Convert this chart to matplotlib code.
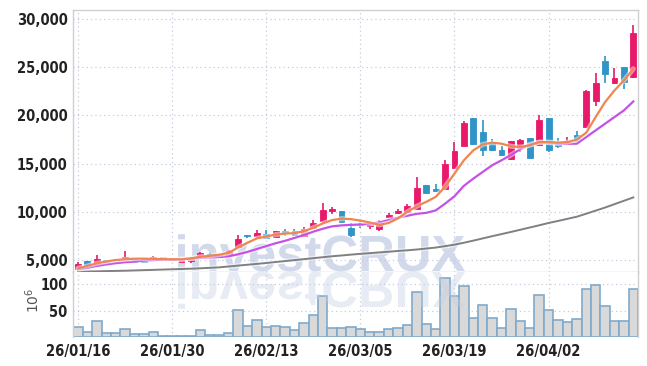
import numpy as np
import matplotlib
matplotlib.use('Agg')
import matplotlib.pyplot as plt
from matplotlib.textpath import TextPath
from matplotlib.patches import PathPatch
from matplotlib.font_manager import FontProperties
from matplotlib.transforms import Affine2D

# daily candles (trading days)
opens = [4100, 4900, 4550, 5000, 4980, 5110, 5220, 5180, 5010, 5300,
         5000, 4850, 4900, 5290, 5660, 5290, 5520, 6380, 7560, 7490,
         7700, 7390, 8010, 8010, 7520, 8350, 9070, 10110, 10070, 8350,
         8680, 8550, 8210, 9420, 9840, 10040, 10310, 12760, 12350, 12380,
         14550, 16870, 19760, 18240, 17000, 16450, 15450, 16620, 17620, 16970,
         19720, 17240, 17030, 17930, 18790, 21480, 25690, 23340, 25000, 23960]
highs = [4850, 4950, 5490, 5050, 5120, 5940, 5250, 5220, 5380, 5330,
         5100, 5020, 5200, 5800, 5700, 5600, 6000, 7600, 7650, 8110,
         8110, 8020, 8250, 8250, 8420, 9180, 10970, 10520, 10100, 8800,
         9110, 9000, 9200, 9900, 10300, 10800, 13600, 12800, 12900, 15420,
         17240, 19470, 19780, 19480, 17550, 16800, 17400, 17600, 17650, 20000,
         19750, 17650, 17750, 18400, 22600, 24400, 26130, 24960, 25050, 29410]
lows = [3950, 4450, 4500, 4750, 4950, 5080, 4800, 4800, 4980, 5120,
        4980, 4820, 4750, 5250, 5420, 5250, 5480, 6300, 7300, 7210,
        7250, 7350, 7500, 7500, 7480, 8300, 8800, 9830, 8950, 7380,
        8320, 8200, 8050, 9350, 9750, 10000, 10250, 11950, 12150, 12350,
        14500, 16800, 16950, 15800, 16300, 15800, 15400, 16200, 15550, 16900,
        16170, 16620, 17000, 17280, 18750, 20950, 23350, 23300, 22750, 23900]
closes = [4600, 4500, 5080, 4800, 5080, 5320, 4830, 4820, 5320, 5150,
          5060, 5000, 5180, 5760, 5450, 5560, 5970, 7210, 7480, 7830,
          7280, 7980, 7770, 7560, 8210, 8830, 10180, 10310, 8970, 7590,
          8600, 8900, 8860, 9630, 10110, 10590, 12450, 11970, 12170, 14930,
          16280, 19200, 17000, 16380, 16380, 15870, 17310, 17420, 15590, 19480,
          16410, 16830, 17380, 17310, 22560, 23380, 24270, 23830, 23440, 28550]
volume = [19.7, 8.9, 30, 7, 7, 16, 5, 5, 9, 1.3,
          2.5, 2.5, 2.5, 12.7, 3, 3, 7, 51, 20, 32,
          18.5, 20, 18.5, 14, 26, 41, 78, 16.5, 16.5, 18.5,
          14.6, 9.5, 9.5, 14.6, 16.5, 22, 85, 24, 14.6, 112,
          78, 97, 36, 61, 36, 16.5, 53, 30, 16.5, 80,
          51, 32, 28, 34, 91, 99, 59, 30, 30, 91]

# moving averages
ma_short = [4150, 4400, 4670, 4850, 5010, 5080, 5150, 5150, 5120, 5100,
            5080, 5080, 5180, 5350, 5450, 5560, 5750, 6300, 6800, 7250,
            7450, 7650, 7750, 7800, 8000, 8350, 8800, 9150, 9300, 9250,
            9100, 8900, 8650, 8850, 9330, 10000, 10590, 11040, 11550, 12600,
            13970, 15350, 16380, 17000, 17180, 17070, 16800, 16720, 16900, 17240,
            17240, 17180, 17240, 17490, 18210, 19830, 21380, 22590, 23620, 24830]
ma_mid = [4050, 4200, 4400, 4550, 4680, 4780, 4850, 4950, 5000, 5050,
          5080, 5100, 5150, 5230, 5290, 5320, 5400, 5600, 5850, 6150,
          6450, 6750, 7000, 7300, 7600, 7950, 8250, 8500, 8600, 8650,
          8700, 8750, 8900, 9150, 9400, 9600, 9800, 9900, 10150, 10850,
          11620, 12700, 13450, 14140, 14830, 15350, 15900, 16500, 17000, 17200,
          17180, 17070, 17070, 17070, 17760, 18450, 19140, 19830, 20520, 21450]
ma_long = [3800, 3820, 3840, 3860, 3880, 3900, 3930, 3960, 3990, 4020,
           4050, 4080, 4110, 4150, 4200, 4250, 4340, 4430, 4520, 4610,
           4700, 4800, 4900, 5000, 5100, 5200, 5300, 5400, 5480, 5570,
           5650, 5720, 5800, 5870, 5950, 6020, 6100, 6200, 6300, 6450,
           6600, 6800, 7020, 7250, 7480, 7700, 7920, 8150, 8380, 8610,
           8850, 9060, 9280, 9500, 9810, 10130, 10450, 10800, 11150, 11500]

date_pos = [0, 10, 20, 30, 40, 50]
date_labels = ['26/01/16', '26/01/30', '26/02/13', '26/03/05', '26/03/19', '26/04/02']
price_ticks = [5000, 10000, 15000, 20000, 25000, 30000]
vol_ticks = [50, 100]

UP = '#E8196B'
DOWN = '#2F94C8'
GRID = '#C3CCDD'
TICKFONT = FontProperties(family='DejaVu Sans', weight='bold', stretch='condensed', size=10.5)

W, H = 647, 366
fig = plt.figure(figsize=(W / 100, H / 100), dpi=100)
ax = fig.add_axes([73.3 / W, (H - 272) / H, (638 - 73.3) / W, 262 / H])
axv = fig.add_axes([73.3 / W, (H - 337) / H, (638 - 73.3) / W, 65 / H], sharex=ax)

x = np.arange(len(opens))
o = np.array(opens); c = np.array(closes)
up = c >= o
cols = np.where(up, UP, DOWN)

# candles
ax.vlines(x, lows, highs, colors=cols, linewidth=1.2, zorder=3)
ax.bar(x, np.abs(c - o), bottom=np.minimum(o, c), width=0.62, color=cols,
       edgecolor=cols, linewidth=0.6, zorder=3)

# moving averages
for vals, col, lw in [(ma_long, '#808080', 1.4), (ma_mid, '#C552E6', 1.6), (ma_short, '#EF8650', 1.6)]:
    ax.plot(x, vals, color='white', lw=lw + 2, alpha=0.5, zorder=4, solid_capstyle='round')
    ax.plot(x, vals, color=col, lw=lw, zorder=4)

# volume
axv.bar(x, volume, width=1.0, color='#D9D9D9', edgecolor='#7FA9CB', linewidth=1.2, zorder=2)

ax.set_xlim(-0.5, 59.5)
ax.set_ylim(3768, 30930)
axv.set_ylim(0, 123)

for a in (ax, axv):
    a.grid(True, linestyle=(0, (1, 2.5)), color=GRID, linewidth=0.9)
    a.set_axisbelow(True)
    a.tick_params(length=0, colors='#222222')
    for s in a.spines.values():
        s.set_color('#D0D0D0')
        s.set_linewidth(1)
axv.spines['bottom'].set_visible(False)
ax.spines['bottom'].set_color('#C8C8C8')
axv.spines['top'].set_visible(False)

ax.set_yticks(price_ticks)
ax.set_yticklabels([f'{v:,}' for v in price_ticks], fontproperties=TICKFONT)
ax.set_xticks(date_pos)
plt.setp(ax.get_xticklabels(), visible=False)
axv.set_yticks(vol_ticks)
axv.set_yticklabels([str(v) for v in vol_ticks], fontproperties=TICKFONT)
axv.set_xticklabels(date_labels, fontproperties=TICKFONT)
axv.tick_params(axis='x', pad=5)
ax.tick_params(axis='y', pad=4)
axv.tick_params(axis='y', pad=4)
fig.text(33 / W, (H - 300) / H, r'$10^6$', rotation=90, ha='center', va='center',
         fontsize=10, color='#555555')

# watermark with mirrored reflection
tp = TextPath((0, 0), 'investCRUX', size=100,
              prop=FontProperties(family='Liberation Sans', weight='bold'))
bb = tp.get_extents()
sc = 287 / bb.width
tx = 178 - bb.x0 * sc
base = H - 271
wm = PathPatch(tp, transform=Affine2D().scale(sc, sc).translate(tx, base),
               facecolor='#C4CDE5', edgecolor='none', alpha=0.75, zorder=0.8)
ax.add_artist(wm)
rf = PathPatch(tp, transform=Affine2D().scale(sc, -sc).translate(tx, base - 1),
               facecolor='#C4CDE5', edgecolor='none', alpha=0.4, zorder=5)
axv.add_artist(rf)

fig.savefig('out.png', dpi=100)
